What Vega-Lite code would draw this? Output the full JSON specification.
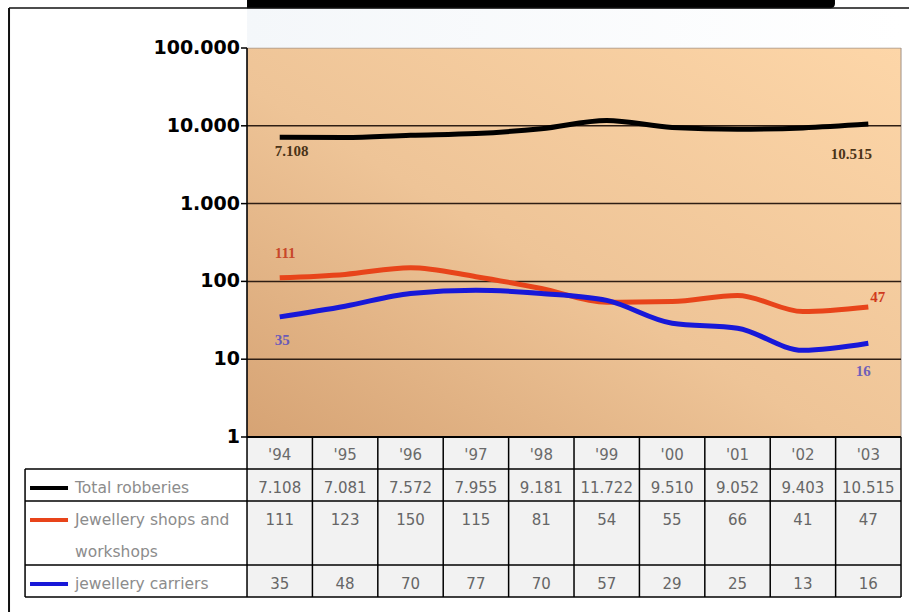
{
  "$schema": "https://vega.github.io/schema/vega-lite/v6.json",
  "width": 909,
  "height": 612,
  "autosize": {"type": "none"},
  "padding": 0,
  "background": "#ffffff",
  "config": {
    "view": {"stroke": null},
    "locale": {"number": {"decimal": ",", "thousands": ".", "grouping": [3], "currency": ["", " €"]}}
  },
  "datasets": {
    "robberies": [
      {"year": "'94", "i": 0, "series": "Total robberies", "value": 7108},
      {"year": "'95", "i": 1, "series": "Total robberies", "value": 7081},
      {"year": "'96", "i": 2, "series": "Total robberies", "value": 7572},
      {"year": "'97", "i": 3, "series": "Total robberies", "value": 7955},
      {"year": "'98", "i": 4, "series": "Total robberies", "value": 9181},
      {"year": "'99", "i": 5, "series": "Total robberies", "value": 11722},
      {"year": "'00", "i": 6, "series": "Total robberies", "value": 9510},
      {"year": "'01", "i": 7, "series": "Total robberies", "value": 9052},
      {"year": "'02", "i": 8, "series": "Total robberies", "value": 9403},
      {"year": "'03", "i": 9, "series": "Total robberies", "value": 10515},
      {"year": "'94", "i": 0, "series": "Jewellery shops and workshops", "value": 111},
      {"year": "'95", "i": 1, "series": "Jewellery shops and workshops", "value": 123},
      {"year": "'96", "i": 2, "series": "Jewellery shops and workshops", "value": 150},
      {"year": "'97", "i": 3, "series": "Jewellery shops and workshops", "value": 115},
      {"year": "'98", "i": 4, "series": "Jewellery shops and workshops", "value": 81},
      {"year": "'99", "i": 5, "series": "Jewellery shops and workshops", "value": 54},
      {"year": "'00", "i": 6, "series": "Jewellery shops and workshops", "value": 55},
      {"year": "'01", "i": 7, "series": "Jewellery shops and workshops", "value": 66},
      {"year": "'02", "i": 8, "series": "Jewellery shops and workshops", "value": 41},
      {"year": "'03", "i": 9, "series": "Jewellery shops and workshops", "value": 47},
      {"year": "'94", "i": 0, "series": "jewellery carriers", "value": 35},
      {"year": "'95", "i": 1, "series": "jewellery carriers", "value": 48},
      {"year": "'96", "i": 2, "series": "jewellery carriers", "value": 70},
      {"year": "'97", "i": 3, "series": "jewellery carriers", "value": 77},
      {"year": "'98", "i": 4, "series": "jewellery carriers", "value": 70},
      {"year": "'99", "i": 5, "series": "jewellery carriers", "value": 57},
      {"year": "'00", "i": 6, "series": "jewellery carriers", "value": 29},
      {"year": "'01", "i": 7, "series": "jewellery carriers", "value": 25},
      {"year": "'02", "i": 8, "series": "jewellery carriers", "value": 13},
      {"year": "'03", "i": 9, "series": "jewellery carriers", "value": 16}
    ],
    "rows": [
      {"series": "Total robberies", "line": 1},
      {"series": "Jewellery shops and workshops", "line": 2},
      {"series": "jewellery carriers", "line": 4}
    ],
    "rowText": [
      {"text": "Total robberies", "line": 1},
      {"text": "Jewellery shops and", "line": 2},
      {"text": "workshops", "line": 3},
      {"text": "jewellery carriers", "line": 4}
    ],
    "yTicks": [{"v": 1}, {"v": 10}, {"v": 100}, {"v": 1000}, {"v": 10000}, {"v": 100000}],
    "gridValues": [{"v": 10}, {"v": 100}, {"v": 1000}, {"v": 10000}],
    "tableRules": [{"line": 1}, {"line": 2}, {"line": 4}, {"line": 5}],
    "colEdges": [{"e": -0.5}, {"e": 0.5}, {"e": 1.5}, {"e": 2.5}, {"e": 3.5}, {"e": 4.5}, {"e": 5.5}, {"e": 6.5}, {"e": 7.5}, {"e": 8.5}, {"e": 9.5}]
  },
  "resolve": {"scale": {"y": "independent"}},
  "layer": [
    {
      "layer": [
        {
          "data": {"values": [{}]},
          "mark": {"type": "rect", "fill": {"gradient": "linear", "x1": 0, "y1": 1, "x2": 1, "y2": 0, "stops": [{"offset": 0, "color": "#d6a374"}, {"offset": 0.45, "color": "#eec497"}, {"offset": 1, "color": "#fdd6a8"}]}, "stroke": "#a09288", "strokeWidth": 1},
          "encoding": {
            "x": {"datum": -0.5, "type": "quantitative", "scale": {"domain": [-4.277, 9.622], "nice": false, "zero": false}, "axis": null},
            "x2": {"datum": 9.5},
            "y": {"datum": 1, "type": "quantitative", "scale": {"type": "log", "domain": [0.00563, 414000], "nice": false}, "axis": null},
            "y2": {"datum": 100000}
          }
        },
        {
          "data": {"name": "gridValues"},
          "mark": {"type": "rule", "color": "#2e1e14", "strokeWidth": 1.5},
          "encoding": {
            "x": {"datum": -0.5, "type": "quantitative", "scale": {"domain": [-4.277, 9.622], "nice": false, "zero": false}, "axis": null},
            "x2": {"datum": 9.5},
            "y": {"field": "v", "type": "quantitative", "scale": {"type": "log", "domain": [0.00563, 414000], "nice": false}, "axis": null}
          }
        },
        {
          "data": {"name": "yTicks"},
          "mark": {"type": "rule", "color": "#000000", "strokeWidth": 1.5},
          "encoding": {
            "x": {"datum": -0.592, "type": "quantitative", "scale": {"domain": [-4.277, 9.622], "nice": false, "zero": false}, "axis": null},
            "x2": {"datum": -0.5},
            "y": {"field": "v", "type": "quantitative", "scale": {"type": "log", "domain": [0.00563, 414000], "nice": false}, "axis": null}
          }
        },
        {
          "data": {"name": "yTicks"},
          "mark": {"type": "text", "font": "DejaVu Sans", "fontWeight": "bold", "fontSize": 19, "color": "#000000", "align": "right", "baseline": "middle", "dx": -1},
          "encoding": {
            "x": {"datum": -0.592, "type": "quantitative", "scale": {"domain": [-4.277, 9.622], "nice": false, "zero": false}, "axis": null},
            "y": {"field": "v", "type": "quantitative", "scale": {"type": "log", "domain": [0.00563, 414000], "nice": false}, "axis": null},
            "text": {"field": "v", "type": "quantitative", "format": ",d"}
          }
        },
        {
          "data": {"values": [{}]},
          "mark": {"type": "rule", "color": "#000000", "strokeWidth": 1.5},
          "encoding": {
            "x": {"datum": -0.5, "type": "quantitative", "scale": {"domain": [-4.277, 9.622], "nice": false, "zero": false}, "axis": null},
            "y": {"datum": 1, "type": "quantitative", "scale": {"type": "log", "domain": [0.00563, 414000], "nice": false}, "axis": null},
            "y2": {"datum": 100000}
          }
        },
        {
          "data": {"name": "robberies"},
          "mark": {"type": "line", "interpolate": "monotone", "strokeWidth": 5},
          "encoding": {
            "x": {"field": "i", "type": "quantitative", "scale": {"domain": [-4.277, 9.622], "nice": false, "zero": false}, "axis": null},
            "y": {"field": "value", "type": "quantitative", "scale": {"type": "log", "domain": [0.00563, 414000], "nice": false}, "axis": null},
            "color": {"field": "series", "type": "nominal", "scale": {"domain": ["Total robberies", "Jewellery shops and workshops", "jewellery carriers"], "range": ["#000000", "#e8441a", "#1818d8"]}, "legend": null}
          }
        },
        {
          "data": {"name": "robberies"},
          "transform": [{"filter": "datum.i == 0 && datum.series == 'Total robberies'"}],
          "mark": {"type": "text", "font": "Liberation Serif", "fontWeight": "bold", "fontSize": 15, "color": "#4b3418", "align": "left", "baseline": "middle", "dx": -5, "dy": 14},
          "encoding": {
            "x": {"field": "i", "type": "quantitative", "scale": {"domain": [-4.277, 9.622], "nice": false, "zero": false}, "axis": null},
            "y": {"field": "value", "type": "quantitative", "scale": {"type": "log", "domain": [0.00563, 414000], "nice": false}, "axis": null},
            "text": {"field": "value", "type": "quantitative", "format": ",d"}
          }
        },
        {
          "data": {"name": "robberies"},
          "transform": [{"filter": "datum.i == 9 && datum.series == 'Total robberies'"}],
          "mark": {"type": "text", "font": "Liberation Serif", "fontWeight": "bold", "fontSize": 15, "color": "#4b3418", "align": "center", "baseline": "middle", "dx": -17, "dy": 30},
          "encoding": {
            "x": {"field": "i", "type": "quantitative", "scale": {"domain": [-4.277, 9.622], "nice": false, "zero": false}, "axis": null},
            "y": {"field": "value", "type": "quantitative", "scale": {"type": "log", "domain": [0.00563, 414000], "nice": false}, "axis": null},
            "text": {"field": "value", "type": "quantitative", "format": ",d"}
          }
        },
        {
          "data": {"name": "robberies"},
          "transform": [{"filter": "datum.i == 0 && datum.series == 'Jewellery shops and workshops'"}],
          "mark": {"type": "text", "font": "Liberation Serif", "fontWeight": "bold", "fontSize": 15, "color": "#c8482a", "align": "left", "baseline": "middle", "dx": -5, "dy": -25},
          "encoding": {
            "x": {"field": "i", "type": "quantitative", "scale": {"domain": [-4.277, 9.622], "nice": false, "zero": false}, "axis": null},
            "y": {"field": "value", "type": "quantitative", "scale": {"type": "log", "domain": [0.00563, 414000], "nice": false}, "axis": null},
            "text": {"field": "value", "type": "quantitative", "format": ",d"}
          }
        },
        {
          "data": {"name": "robberies"},
          "transform": [{"filter": "datum.i == 9 && datum.series == 'Jewellery shops and workshops'"}],
          "mark": {"type": "text", "font": "Liberation Serif", "fontWeight": "bold", "fontSize": 15, "color": "#d03a1c", "align": "left", "baseline": "middle", "dx": 2, "dy": -10},
          "encoding": {
            "x": {"field": "i", "type": "quantitative", "scale": {"domain": [-4.277, 9.622], "nice": false, "zero": false}, "axis": null},
            "y": {"field": "value", "type": "quantitative", "scale": {"type": "log", "domain": [0.00563, 414000], "nice": false}, "axis": null},
            "text": {"field": "value", "type": "quantitative", "format": ",d"}
          }
        },
        {
          "data": {"name": "robberies"},
          "transform": [{"filter": "datum.i == 0 && datum.series == 'jewellery carriers'"}],
          "mark": {"type": "text", "font": "Liberation Serif", "fontWeight": "bold", "fontSize": 15, "color": "#6a5ab8", "align": "left", "baseline": "middle", "dx": -5, "dy": 23},
          "encoding": {
            "x": {"field": "i", "type": "quantitative", "scale": {"domain": [-4.277, 9.622], "nice": false, "zero": false}, "axis": null},
            "y": {"field": "value", "type": "quantitative", "scale": {"type": "log", "domain": [0.00563, 414000], "nice": false}, "axis": null},
            "text": {"field": "value", "type": "quantitative", "format": ",d"}
          }
        },
        {
          "data": {"name": "robberies"},
          "transform": [{"filter": "datum.i == 9 && datum.series == 'jewellery carriers'"}],
          "mark": {"type": "text", "font": "Liberation Serif", "fontWeight": "bold", "fontSize": 15, "color": "#7060b8", "align": "center", "baseline": "middle", "dx": -5, "dy": 28},
          "encoding": {
            "x": {"field": "i", "type": "quantitative", "scale": {"domain": [-4.277, 9.622], "nice": false, "zero": false}, "axis": null},
            "y": {"field": "value", "type": "quantitative", "scale": {"type": "log", "domain": [0.00563, 414000], "nice": false}, "axis": null},
            "text": {"field": "value", "type": "quantitative", "format": ",d"}
          }
        }
      ]
    },
    {
      "layer": [
        {
          "data": {"values": [{}]},
          "mark": {"type": "rect", "fill": {"gradient": "linear", "x1": 0, "y1": 0, "x2": 1, "y2": 0, "stops": [{"offset": 0, "color": "#f4f7fa"}, {"offset": 1, "color": "#ffffff"}]}},
          "encoding": {
            "x": {"datum": -0.5, "type": "quantitative", "scale": {"domain": [-4.277, 9.622], "nice": false, "zero": false}, "axis": null},
            "x2": {"datum": 9.5},
            "y": {"datum": -13.406, "type": "quantitative", "scale": {"domain": [-13.656, 5.469], "reverse": true, "nice": false, "zero": false}, "axis": null},
            "y2": {"datum": -12.17}
          }
        },
        {
          "data": {"values": [{}]},
          "mark": {"type": "rect", "fill": "#000000", "cornerRadiusBottomRight": 9},
          "encoding": {
            "x": {"datum": -0.5, "type": "quantitative", "scale": {"domain": [-4.277, 9.622], "nice": false, "zero": false}, "axis": null},
            "x2": {"datum": 8.49},
            "y": {"datum": -13.656, "type": "quantitative", "scale": {"domain": [-13.656, 5.469], "reverse": true, "nice": false, "zero": false}, "axis": null},
            "y2": {"datum": -13.4}
          }
        },
        {
          "data": {"values": [{}]},
          "mark": {"type": "rule", "color": "#111111", "strokeWidth": 1.5},
          "encoding": {
            "x": {"datum": -4.139, "type": "quantitative", "scale": {"domain": [-4.277, 9.622], "nice": false, "zero": false}, "axis": null},
            "x2": {"datum": 9.622},
            "y": {"datum": -13.406, "type": "quantitative", "scale": {"domain": [-13.656, 5.469], "reverse": true, "nice": false, "zero": false}, "axis": null}
          }
        },
        {
          "data": {"values": [{}]},
          "mark": {"type": "rule", "color": "#111111", "strokeWidth": 2},
          "encoding": {
            "x": {"datum": -4.139, "type": "quantitative", "scale": {"domain": [-4.277, 9.622], "nice": false, "zero": false}, "axis": null},
            "y": {"datum": -13.406, "type": "quantitative", "scale": {"domain": [-13.656, 5.469], "reverse": true, "nice": false, "zero": false}, "axis": null},
            "y2": {"datum": 5.469}
          }
        },
        {
          "data": {"values": [{}]},
          "mark": {"type": "rect", "fill": "#f2f2f2"},
          "encoding": {
            "x": {"datum": -0.5, "type": "quantitative", "scale": {"domain": [-4.277, 9.622], "nice": false, "zero": false}, "axis": null},
            "x2": {"datum": 9.5},
            "y": {"datum": 0, "type": "quantitative", "scale": {"domain": [-13.656, 5.469], "reverse": true, "nice": false, "zero": false}, "axis": null},
            "y2": {"datum": 5}
          }
        },
        {
          "data": {"name": "tableRules"},
          "mark": {"type": "rule", "color": "#000000", "strokeWidth": 1.5},
          "encoding": {
            "x": {"datum": -3.894, "type": "quantitative", "scale": {"domain": [-4.277, 9.622], "nice": false, "zero": false}, "axis": null},
            "x2": {"datum": 9.5},
            "y": {"field": "line", "type": "quantitative", "scale": {"domain": [-13.656, 5.469], "reverse": true, "nice": false, "zero": false}, "axis": null}
          }
        },
        {
          "data": {"values": [{}]},
          "mark": {"type": "rule", "color": "#000000", "strokeWidth": 2},
          "encoding": {
            "x": {"datum": -0.5, "type": "quantitative", "scale": {"domain": [-4.277, 9.622], "nice": false, "zero": false}, "axis": null},
            "x2": {"datum": 9.5},
            "y": {"datum": 0, "type": "quantitative", "scale": {"domain": [-13.656, 5.469], "reverse": true, "nice": false, "zero": false}, "axis": null}
          }
        },
        {
          "data": {"name": "colEdges"},
          "mark": {"type": "rule", "color": "#000000", "strokeWidth": 1.5},
          "encoding": {
            "x": {"field": "e", "type": "quantitative", "scale": {"domain": [-4.277, 9.622], "nice": false, "zero": false}, "axis": null},
            "y": {"datum": 0, "type": "quantitative", "scale": {"domain": [-13.656, 5.469], "reverse": true, "nice": false, "zero": false}, "axis": null},
            "y2": {"datum": 5}
          }
        },
        {
          "data": {"values": [{}]},
          "mark": {"type": "rule", "color": "#000000", "strokeWidth": 1.5},
          "encoding": {
            "x": {"datum": -3.894, "type": "quantitative", "scale": {"domain": [-4.277, 9.622], "nice": false, "zero": false}, "axis": null},
            "y": {"datum": 1, "type": "quantitative", "scale": {"domain": [-13.656, 5.469], "reverse": true, "nice": false, "zero": false}, "axis": null},
            "y2": {"datum": 5}
          }
        },
        {
          "data": {"name": "robberies"},
          "transform": [{"filter": "datum.series == 'Total robberies'"}],
          "mark": {"type": "text", "font": "DejaVu Sans", "fontSize": 15, "color": "#6a6a6a", "align": "center", "baseline": "middle", "dy": 18},
          "encoding": {
            "x": {"field": "i", "type": "quantitative", "scale": {"domain": [-4.277, 9.622], "nice": false, "zero": false}, "axis": null},
            "y": {"datum": 0, "type": "quantitative", "scale": {"domain": [-13.656, 5.469], "reverse": true, "nice": false, "zero": false}, "axis": null},
            "text": {"field": "year", "type": "nominal"}
          }
        },
        {
          "data": {"name": "robberies"},
          "transform": [{"lookup": "series", "from": {"data": {"name": "rows"}, "key": "series", "fields": ["line"]}}],
          "mark": {"type": "text", "font": "DejaVu Sans", "fontSize": 15, "color": "#666666", "align": "center", "baseline": "middle", "dy": 19},
          "encoding": {
            "x": {"field": "i", "type": "quantitative", "scale": {"domain": [-4.277, 9.622], "nice": false, "zero": false}, "axis": null},
            "y": {"field": "line", "type": "quantitative", "scale": {"domain": [-13.656, 5.469], "reverse": true, "nice": false, "zero": false}, "axis": null},
            "text": {"field": "value", "type": "quantitative", "format": ",d"}
          }
        },
        {
          "data": {"name": "rowText"},
          "mark": {"type": "text", "font": "DejaVu Sans", "fontSize": 15.5, "color": "#8c8c8c", "align": "left", "baseline": "middle", "dy": 19},
          "encoding": {
            "x": {"datum": -3.13, "type": "quantitative", "scale": {"domain": [-4.277, 9.622], "nice": false, "zero": false}, "axis": null},
            "y": {"field": "line", "type": "quantitative", "scale": {"domain": [-13.656, 5.469], "reverse": true, "nice": false, "zero": false}, "axis": null},
            "text": {"field": "text", "type": "nominal"}
          }
        },
        {
          "data": {"name": "rows"},
          "mark": {"type": "rule", "strokeWidth": 4, "yOffset": 19},
          "encoding": {
            "x": {"datum": -3.818, "type": "quantitative", "scale": {"domain": [-4.277, 9.622], "nice": false, "zero": false}, "axis": null},
            "x2": {"datum": -3.237},
            "y": {"field": "line", "type": "quantitative", "scale": {"domain": [-13.656, 5.469], "reverse": true, "nice": false, "zero": false}, "axis": null},
            "color": {"field": "series", "type": "nominal", "legend": null}
          }
        }
      ]
    }
  ]
}
